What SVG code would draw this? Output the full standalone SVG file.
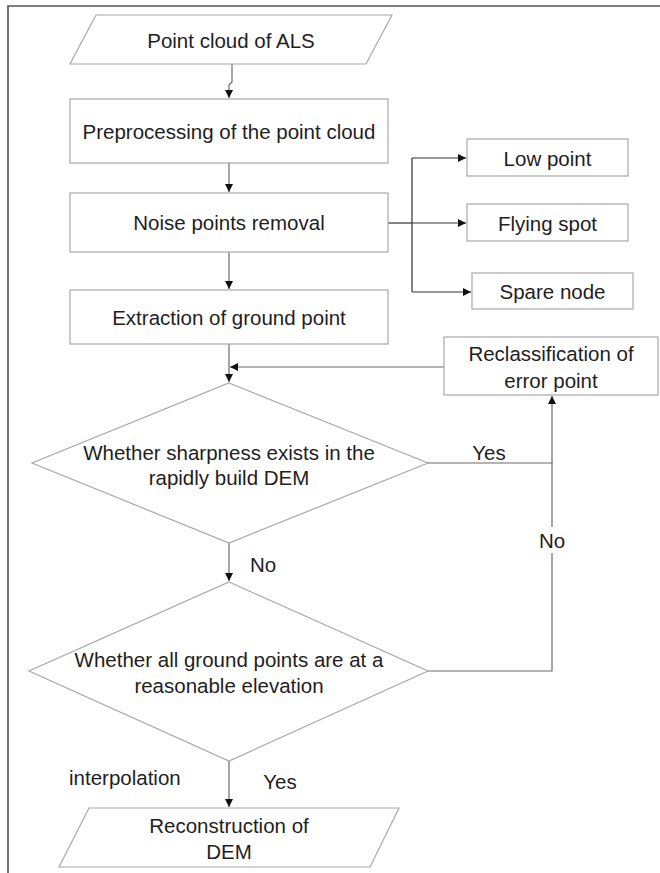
<svg xmlns="http://www.w3.org/2000/svg" width="660" height="873" viewBox="0 0 660 873">
<style>
.shape{fill:#fff;stroke:#a8a8a8;stroke-width:1.2}
.conn{fill:none;stroke:#6a6a6a;stroke-width:1.2}
.dark{fill:none;stroke:#333;stroke-width:1.2}
text{font-family:"Liberation Sans",Arial,sans-serif;font-size:20.5px;fill:#1e1e1e;text-anchor:middle;dominant-baseline:central}
.lab{text-anchor:start}
</style>
<defs>
<marker id="ah" viewBox="0 0 10 10" refX="10" refY="5" markerWidth="9" markerHeight="8" markerUnits="userSpaceOnUse" orient="auto">
<path d="M0,0 L10,5 L0,10 z" fill="#111"/>
</marker>
</defs>
<rect width="660" height="873" fill="#fff"/>
<g id="frame">
<path d="M8,873 V6 H660" fill="none" stroke="#555" stroke-width="1.6"/>
</g>
<g id="connectors">
<path class="conn" d="M232,64 V82 L229,85 V98" marker-end="url(#ah)"/>
<path class="conn" d="M229,163 V192" marker-end="url(#ah)"/>
<path class="conn" d="M229,252 V289" marker-end="url(#ah)"/>
<path class="dark" d="M388,223 H412"/>
<path class="dark" d="M412,158 V292"/>
<path class="dark" d="M412,158 H466" marker-end="url(#ah)"/>
<path class="dark" d="M412,223 H466" marker-end="url(#ah)"/>
<path class="dark" d="M412,292 H471" marker-end="url(#ah)"/>
<path class="conn" d="M229,344 V382" marker-end="url(#ah)"/>
<path class="conn" d="M444,367 H230" marker-end="url(#ah)"/>
<path class="conn" d="M428,463 H552 V396" marker-end="url(#ah)"/>
<path class="conn" d="M428,671 H552 V553"/>
<path class="conn" d="M552,527 V463"/>
<path class="conn" d="M229,543 V581" marker-end="url(#ah)"/>
<path class="conn" d="M229,761 V807" marker-end="url(#ah)"/>
<text x="489" y="452">Yes</text>
<text x="552" y="540">No</text>
<text x="263" y="564">No</text>
<text class="lab" x="69" y="777">interpolation</text>
<text x="280" y="781">Yes</text>
</g>
<g id="n_input">
<polygon class="shape" points="96,15 392,15 366,64 70,64"/>
<text x="231" y="40">Point cloud of ALS</text>
</g>
<g id="n_pre">
<rect class="shape" x="70" y="99" width="318" height="64"/>
<text x="229" y="131">Preprocessing of the point cloud</text>
</g>
<g id="n_noise">
<rect class="shape" x="70" y="193" width="318" height="59"/>
<text x="229" y="222">Noise points removal</text>
</g>
<g id="n_ground">
<rect class="shape" x="70" y="290" width="318" height="54"/>
<text x="229" y="317">Extraction of ground point</text>
</g>
<g id="n_low">
<rect class="shape" x="467" y="139" width="161" height="37"/>
<text x="547.5" y="158">Low point</text>
</g>
<g id="n_fly">
<rect class="shape" x="467" y="204" width="161" height="37"/>
<text x="547.5" y="223">Flying spot</text>
</g>
<g id="n_spare">
<rect class="shape" x="472" y="273" width="161" height="36"/>
<text x="552.5" y="291">Spare node</text>
</g>
<g id="n_reclass">
<rect class="shape" x="444" y="337" width="214" height="58"/>
<text x="551" y="353">Reclassification of</text>
<text x="551" y="380">error point</text>
</g>
<g id="n_sharp">
<polygon class="shape" points="229,383 428,463 229,543 32,463"/>
<text x="229" y="452">Whether sharpness exists in the</text>
<text x="229" y="477">rapidly build DEM</text>
</g>
<g id="n_elev">
<polygon class="shape" points="229,582 428,671 229,761 29,671"/>
<text x="229" y="659">Whether all ground points are at a</text>
<text x="229" y="685">reasonable elevation</text>
</g>
<g id="n_out">
<polygon class="shape" points="89,808 399,808 370,867 59,867"/>
<text x="229" y="825">Reconstruction of</text>
<text x="229" y="851">DEM</text>
</g>
</svg>
